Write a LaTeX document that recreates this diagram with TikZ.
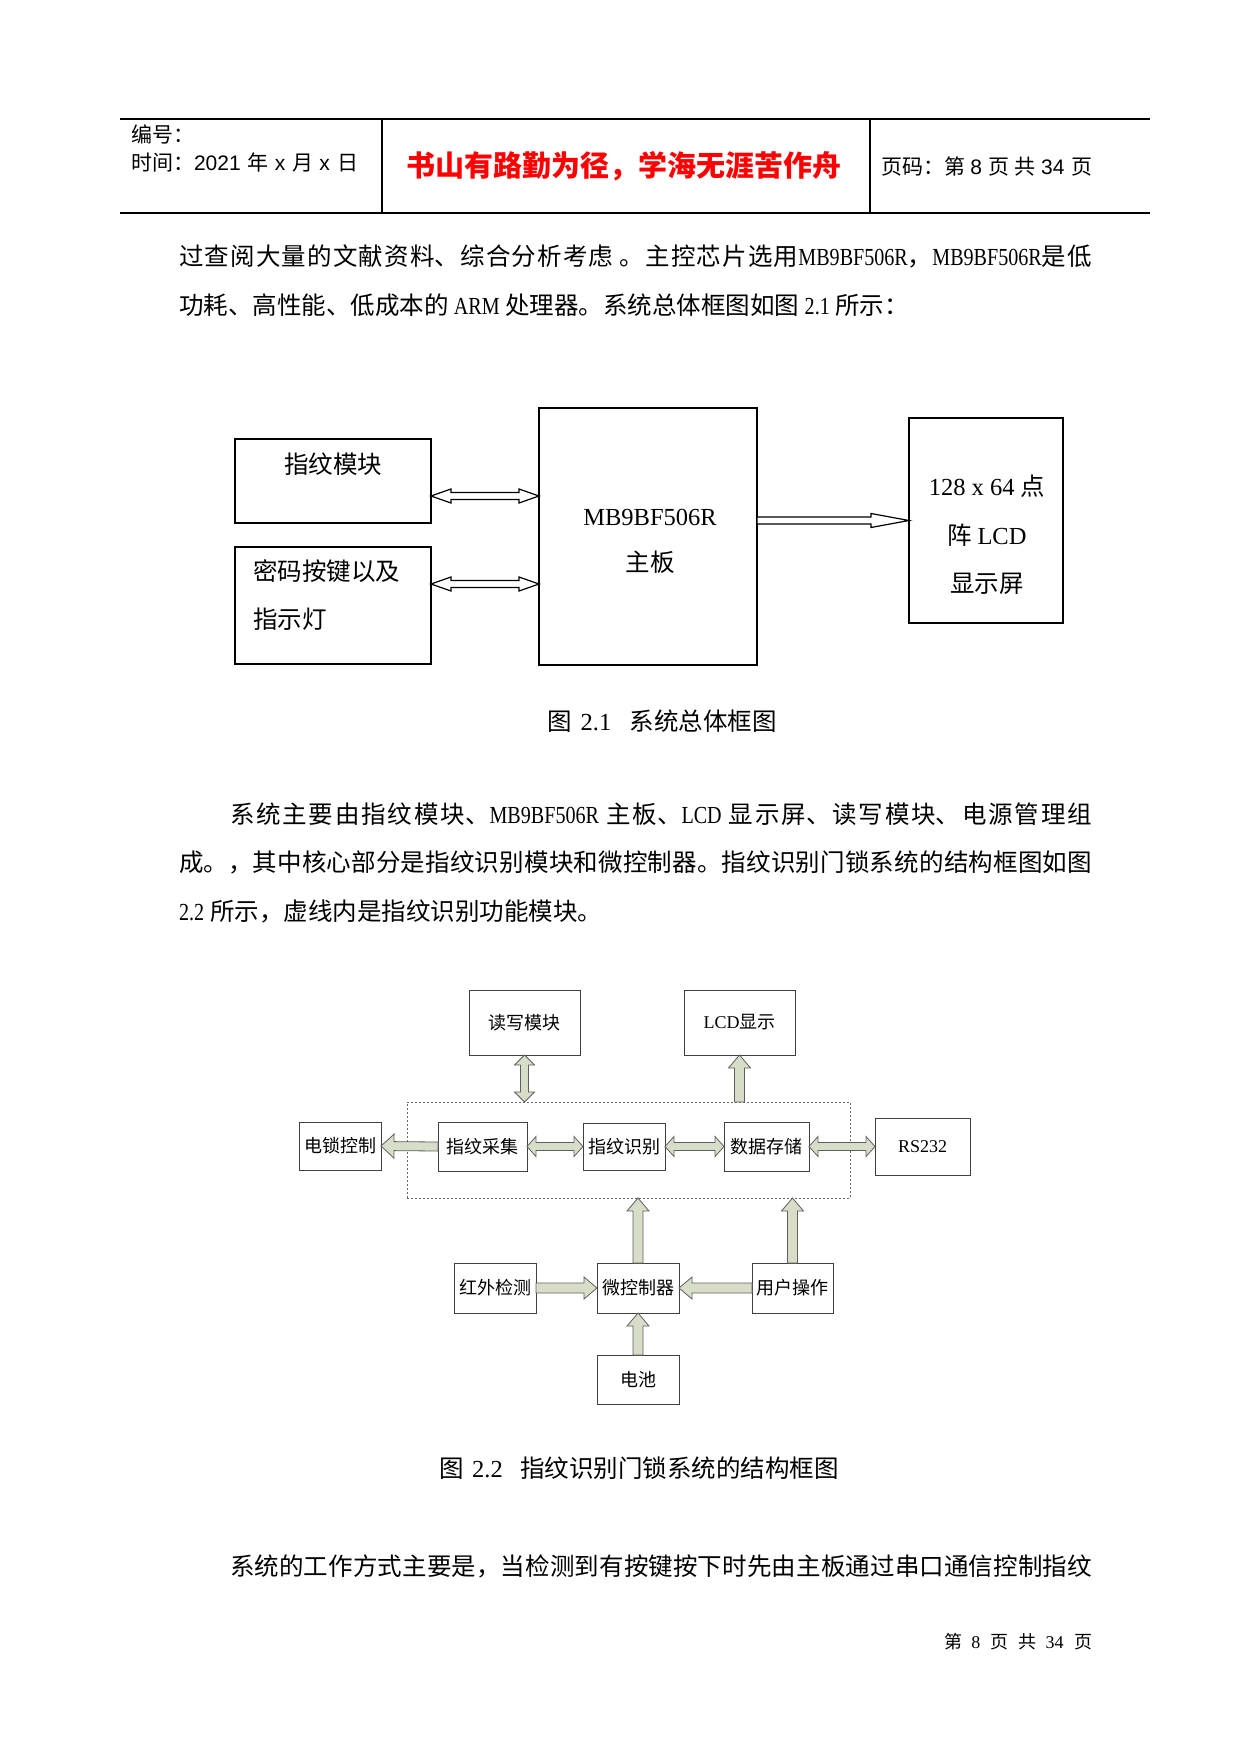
\documentclass[tikz,border=0pt]{standalone}
\usepackage{fontspec}
\setmainfont{Liberation Serif}
\newfontfamily\cjk{Noto Sans CJK SC}
\newfontfamily\hsans{Liberation Sans}
\usetikzlibrary{calc}
\definecolor{arrfill}{RGB}{216,221,199}
\definecolor{arrline}{RGB}{95,95,95}
\XeTeXlinebreaklocale "zh"
\XeTeXlinebreakskip=0pt plus 3pt minus 1pt
% condensed Latin run inside body text
\newcommand\lat[1]{\scalebox{0.82}[1]{\rmfamily #1}}
% one fully justified line of given width
\newcommand\jline[2]{\parbox{#1}{\noindent\parfillskip=0pt\relax\cjk #2\par}}
% single block arrow: [style]{tail}{head}{half shaft}{half head}{head length}
\newcommand\sarrow[6][]{%
\path[#1] let \p1=(#2), \p2=(#3), \n1={veclen(\x2-\x1,\y2-\y1)}, \n2={(\x2-\x1)/\n1}, \n3={(\y2-\y1)/\n1} in
 ({\x1-\n3*#4},{\y1+\n2*#4})
 -- ({\x1+\n2*(\n1-#6)-\n3*#4},{\y1+\n3*(\n1-#6)+\n2*#4})
 -- ({\x1+\n2*(\n1-#6)-\n3*#5},{\y1+\n3*(\n1-#6)+\n2*#5})
 -- (\p2)
 -- ({\x1+\n2*(\n1-#6)+\n3*#5},{\y1+\n3*(\n1-#6)-\n2*#5})
 -- ({\x1+\n2*(\n1-#6)+\n3*#4},{\y1+\n3*(\n1-#6)-\n2*#4})
 -- ({\x1+\n3*#4},{\y1-\n2*#4})
 -- cycle;}
% double block arrow
\newcommand\darrow[6][]{%
\path[#1] let \p1=(#2), \p2=(#3), \n1={veclen(\x2-\x1,\y2-\y1)}, \n2={(\x2-\x1)/\n1}, \n3={(\y2-\y1)/\n1} in
 (\p1)
 -- ({\x1+\n2*#6-\n3*#5},{\y1+\n3*#6+\n2*#5})
 -- ({\x1+\n2*#6-\n3*#4},{\y1+\n3*#6+\n2*#4})
 -- ({\x1+\n2*(\n1-#6)-\n3*#4},{\y1+\n3*(\n1-#6)+\n2*#4})
 -- ({\x1+\n2*(\n1-#6)-\n3*#5},{\y1+\n3*(\n1-#6)+\n2*#5})
 -- (\p2)
 -- ({\x1+\n2*(\n1-#6)+\n3*#5},{\y1+\n3*(\n1-#6)-\n2*#5})
 -- ({\x1+\n2*(\n1-#6)+\n3*#4},{\y1+\n3*(\n1-#6)-\n2*#4})
 -- ({\x1+\n2*#6+\n3*#4},{\y1+\n3*#6-\n2*#4})
 -- ({\x1+\n2*#6+\n3*#5},{\y1+\n3*#6-\n2*#5})
 -- cycle;}
\begin{document}
\begin{tikzpicture}[x=1pt,y=1pt,
 txt/.style={inner sep=0pt, outer sep=0pt},
 t1/.style={txt, font=\fontsize{24.5}{24.5}\selectfont},
 body/.style={txt, anchor=west, font=\fontsize{24.5}{24.5}\selectfont},
 hline/.style={line width=1.1pt},
 boxa/.style={draw, line width=1.8pt, inner sep=0pt, outer sep=0pt},
 boxb/.style={draw=black!75, line width=1pt, inner sep=0pt, outer sep=0pt, font=\fontsize{18}{18}\selectfont},
 dashbox/.style={draw=black!60, line width=0.8pt, dash pattern=on 2pt off 2pt, inner sep=0pt, outer sep=0pt},
 arra/.style={draw=black, line width=1.2pt, fill=white},
 arrb/.style={draw=arrline, line width=0.8pt, fill=arrfill}]
\fill[white] (0,0) rectangle (1241,-1754);
\useasboundingbox (0,0) rectangle (1241,-1754);
% ---------- header ----------
\draw[hline] (120,-119) -- (1150,-119);
\draw[hline] (120,-213) -- (1150,-213);
\draw[hline] (382,-119) -- (382,-213);
\draw[hline] (870,-119) -- (870,-213);
\node[txt,anchor=west,font=\fontsize{21}{21}\selectfont\cjk] (hno) at (131,-134) {编号：};
\node[txt,anchor=west,font=\fontsize{21}{21}\selectfont] (htime) at (131,-162)
 {\makebox[227pt][s]{\cjk 时间：\hsans 2021 \cjk 年 \hsans x \cjk 月 \hsans x \cjk 日}};
\node[txt,font=\fontsize{29}{29}\selectfont\cjk\bfseries,text=red] (motto) at (624,-166) {书山有路勤为径，学海无涯苦作舟};
\node[txt,anchor=west,font=\fontsize{21}{21}\selectfont] (hpage) at (881,-166)
 {\makebox[211pt][s]{\cjk 页码：第 \hsans 8 \cjk 页 共 \hsans 34 \cjk 页}};
% ---------- paragraph 1 ----------
\node[body] (p1a) at (179,-256) {\jline{913pt}{过查阅大量的文献资料、综合分析考虑 。主控芯片选用\lat{MB9BF506R}\cjk ，\lat{MB9BF506R}\cjk 是低}};
\node[body] (p1b) at (179,-305) {\cjk 功耗、高性能、低成本的 \lat{ARM} \cjk 处理器。系统总体框图如图 \lat{2.1} \cjk 所示：};
% ---------- figure 2.1 ----------
\node[boxa, minimum width=196pt, minimum height=84pt] (fp) at (333,-481) {};
\node[boxa, minimum width=196pt, minimum height=117pt] (key) at (333,-605.5) {};
\node[boxa, minimum width=218pt, minimum height=257pt] (main) at (648,-536.5) {};
\node[boxa, minimum width=154pt, minimum height=205pt] (lcd) at (986,-520.5) {};
\node[t1] (fpt) at (333,-464) {\cjk 指纹模块};
\node[t1, anchor=west] (keyt1) at (253,-571) {\cjk 密码按键以及};
\node[t1, anchor=west] (keyt2) at (253,-619) {\cjk 指示灯};
\node[t1] (maint1) at (650,-517) {MB9BF506R};
\node[t1] (maint2) at (650,-562) {\cjk 主板};
\node[t1] (lcdt1) at (987,-486) {128 x 64 \cjk 点};
\node[t1] (lcdt2) at (987,-535) {\cjk 阵 \rmfamily LCD};
\node[t1] (lcdt3) at (987,-584) {\cjk 显示屏};
\coordinate (ya) at (0,-496);
\coordinate (yb) at (0,-584);
\darrow[arra]{fp.east |- ya}{main.west |- ya}{3.5}{7}{20}
\darrow[arra]{key.east |- yb}{main.west |- yb}{3.5}{7}{20}
\sarrow[arra]{main.east |- lcd.west}{lcd.west}{3.5}{7}{38}
\node[t1] (cap1) at (662,-721) {\makebox[229pt][s]{\cjk 图 \rmfamily 2.1 \cjk \ 系统总体框图}};
% ---------- paragraph 2 ----------
\node[body] (p2a) at (230,-814) {\jline{862pt}{系统主要由指纹模块、\lat{MB9BF506R} \cjk 主板、\lat{LCD} \cjk 显示屏、读写模块、电源管理组}};
\node[body] (p2b) at (179,-862) {\jline{913pt}{成。，其中核心部分是指纹识别模块和微控制器。指纹识别门锁系统的结构框图如图}};
\node[body] (p2c) at (179,-911) {\lat{2.2} \cjk 所示，虚线内是指纹识别功能模块。};
% ---------- figure 2.2 ----------
\node[dashbox, minimum width=443pt, minimum height=96pt] (dash) at (628.5,-1150) {};
\node[boxb, minimum width=111pt, minimum height=65pt] (rw) at (524.5,-1022.5) {\cjk 读写模块};
\node[boxb, minimum width=111pt, minimum height=65pt] (lcd2) at (739.5,-1022.5) {LCD\cjk 显示};
\node[boxb, minimum width=82pt, minimum height=48pt] (lock) at (340,-1146) {\cjk 电锁控制};
\node[boxb, minimum width=89pt, minimum height=49pt] (cap) at (482.5,-1146.5) {\cjk 指纹采集};
\node[boxb, minimum width=82pt, minimum height=47pt] (rec) at (624,-1146.5) {\cjk 指纹识别};
\node[boxb, minimum width=85pt, minimum height=49pt] (store) at (766.5,-1146.5) {\cjk 数据存储};
\node[boxb, minimum width=95pt, minimum height=57pt] (rs) at (922.5,-1146.5) {RS232};
\node[boxb, minimum width=82pt, minimum height=50pt] (ir) at (495,-1288) {\cjk 红外检测};
\node[boxb, minimum width=82pt, minimum height=50pt] (mcu) at (638,-1288) {\cjk 微控制器};
\node[boxb, minimum width=81pt, minimum height=50pt] (user) at (792.5,-1288) {\cjk 用户操作};
\node[boxb, minimum width=82pt, minimum height=49pt] (bat) at (638,-1379.5) {\cjk 电池};
\darrow[arrb]{rw.south}{rw.south |- dash.north}{4}{10}{10}
\sarrow[arrb]{lcd2.south |- dash.north}{lcd2.south}{5}{11}{13}
\sarrow[arrb]{cap.west}{lock.east}{4.5}{12}{13}
\darrow[arrb]{cap.east}{rec.west}{4}{10}{9}
\darrow[arrb]{rec.east}{store.west}{4}{10}{9}
\darrow[arrb]{store.east}{rs.west}{4}{10}{9}
\sarrow[arrb]{mcu.north}{mcu.north |- dash.south}{5}{11}{13}
\sarrow[arrb]{user.north}{user.north |- dash.south}{5}{11}{13}
\sarrow[arrb]{ir.east}{mcu.west}{5}{11}{13}
\sarrow[arrb]{user.west}{mcu.east}{5}{11}{13}
\sarrow[arrb]{bat.north}{mcu.south}{5}{11}{13}
\node[t1] (cap2) at (639,-1468) {\makebox[399pt][s]{\cjk 图 \rmfamily 2.2 \cjk \ 指纹识别门锁系统的结构框图}};
% ---------- paragraph 3 ----------
\node[body] (p3a) at (230,-1566) {\jline{862pt}{系统的工作方式主要是，当检测到有按键按下时先由主板通过串口通信控制指纹}};
% ---------- footer ----------
\node[txt,anchor=east,font=\fontsize{18}{18}\selectfont] (foot) at (1092,-1642)
 {\makebox[148pt][s]{\cjk 第 \rmfamily 8 \cjk 页 共 \rmfamily 34 \cjk 页}};
\end{tikzpicture}
\end{document}
